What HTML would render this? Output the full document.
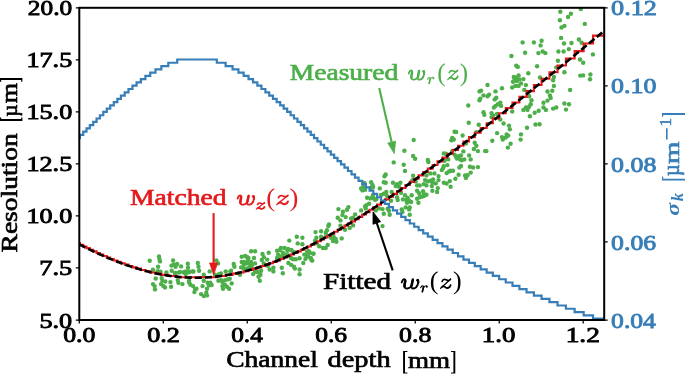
<!DOCTYPE html>
<html><head><meta charset="utf-8"><style>html,body{margin:0;padding:0;background:#fff;}svg{display:block;will-change:transform;}text{font-family:"Liberation Serif",serif;font-weight:bold;}</style></head>
<body><svg width="685" height="374" viewBox="0 0 685 374" font-family="Liberation Serif" font-weight="bold">
<rect width="685" height="374" fill="#fff"/>
<defs><clipPath id="c"><rect x="79.30" y="7.80" width="524.90" height="312.20"/></clipPath></defs><g fill="#4daf4a" clip-path="url(#c)"><circle cx="149.7" cy="260.7" r="2.2"/><circle cx="159.0" cy="256.4" r="2.2"/><circle cx="159.4" cy="259.1" r="2.2"/><circle cx="160.0" cy="261.4" r="2.2"/><circle cx="158.1" cy="266.7" r="2.2"/><circle cx="153.0" cy="269.8" r="2.2"/><circle cx="157.7" cy="271.1" r="2.2"/><circle cx="160.4" cy="271.6" r="2.2"/><circle cx="166.4" cy="272.4" r="2.2"/><circle cx="155.7" cy="278.5" r="2.2"/><circle cx="161.7" cy="278.1" r="2.2"/><circle cx="162.4" cy="281.0" r="2.2"/><circle cx="165.3" cy="281.5" r="2.2"/><circle cx="153.0" cy="284.1" r="2.2"/><circle cx="154.6" cy="286.1" r="2.2"/><circle cx="155.0" cy="289.4" r="2.2"/><circle cx="161.0" cy="284.1" r="2.2"/><circle cx="163.4" cy="286.1" r="2.2"/><circle cx="165.0" cy="287.4" r="2.2"/><circle cx="170.4" cy="282.1" r="2.2"/><circle cx="171.1" cy="286.7" r="2.2"/><circle cx="173.1" cy="260.4" r="2.2"/><circle cx="173.7" cy="264.4" r="2.2"/><circle cx="177.1" cy="264.0" r="2.2"/><circle cx="175.5" cy="266.7" r="2.2"/><circle cx="181.1" cy="266.4" r="2.2"/><circle cx="187.8" cy="263.8" r="2.2"/><circle cx="188.0" cy="267.8" r="2.2"/><circle cx="171.7" cy="270.7" r="2.2"/><circle cx="175.1" cy="273.4" r="2.2"/><circle cx="180.0" cy="272.0" r="2.2"/><circle cx="183.8" cy="272.4" r="2.2"/><circle cx="185.8" cy="271.4" r="2.2"/><circle cx="189.1" cy="271.6" r="2.2"/><circle cx="192.4" cy="271.4" r="2.2"/><circle cx="197.8" cy="263.0" r="2.2"/><circle cx="198.5" cy="266.7" r="2.2"/><circle cx="199.1" cy="270.7" r="2.2"/><circle cx="177.7" cy="280.1" r="2.2"/><circle cx="178.4" cy="282.7" r="2.2"/><circle cx="182.4" cy="284.1" r="2.2"/><circle cx="189.1" cy="280.7" r="2.2"/><circle cx="190.4" cy="284.7" r="2.2"/><circle cx="193.1" cy="286.1" r="2.2"/><circle cx="194.4" cy="292.1" r="2.2"/><circle cx="196.4" cy="288.8" r="2.2"/><circle cx="202.5" cy="286.1" r="2.2"/><circle cx="201.1" cy="294.1" r="2.2"/><circle cx="203.8" cy="296.1" r="2.2"/><circle cx="203.8" cy="274.7" r="2.2"/><circle cx="203.8" cy="280.7" r="2.2"/><circle cx="185.8" cy="274.1" r="2.2"/><circle cx="216.4" cy="260.4" r="2.2"/><circle cx="218.1" cy="263.4" r="2.2"/><circle cx="209.7" cy="271.4" r="2.2"/><circle cx="207.7" cy="282.7" r="2.2"/><circle cx="210.3" cy="282.7" r="2.2"/><circle cx="209.0" cy="285.4" r="2.2"/><circle cx="211.7" cy="285.0" r="2.2"/><circle cx="207.0" cy="288.8" r="2.2"/><circle cx="206.3" cy="292.8" r="2.2"/><circle cx="207.0" cy="295.4" r="2.2"/><circle cx="215.0" cy="274.7" r="2.2"/><circle cx="219.0" cy="274.1" r="2.2"/><circle cx="221.0" cy="273.4" r="2.2"/><circle cx="225.7" cy="271.4" r="2.2"/><circle cx="230.4" cy="271.4" r="2.2"/><circle cx="218.4" cy="280.7" r="2.2"/><circle cx="221.0" cy="280.1" r="2.2"/><circle cx="222.4" cy="282.1" r="2.2"/><circle cx="225.0" cy="280.1" r="2.2"/><circle cx="227.7" cy="279.4" r="2.2"/><circle cx="229.7" cy="278.7" r="2.2"/><circle cx="231.7" cy="283.4" r="2.2"/><circle cx="222.4" cy="286.1" r="2.2"/><circle cx="225.0" cy="284.7" r="2.2"/><circle cx="227.0" cy="286.7" r="2.2"/><circle cx="229.1" cy="288.8" r="2.2"/><circle cx="223.0" cy="288.8" r="2.2"/><circle cx="233.7" cy="264.0" r="2.2"/><circle cx="234.4" cy="266.7" r="2.2"/><circle cx="231.1" cy="270.7" r="2.2"/><circle cx="241.7" cy="256.7" r="2.2"/><circle cx="245.1" cy="256.0" r="2.2"/><circle cx="248.4" cy="258.0" r="2.2"/><circle cx="247.8" cy="260.0" r="2.2"/><circle cx="251.1" cy="251.3" r="2.2"/><circle cx="255.1" cy="251.3" r="2.2"/><circle cx="241.7" cy="262.0" r="2.2"/><circle cx="243.8" cy="264.7" r="2.2"/><circle cx="246.4" cy="263.4" r="2.2"/><circle cx="249.1" cy="262.7" r="2.2"/><circle cx="251.1" cy="262.0" r="2.2"/><circle cx="251.8" cy="265.4" r="2.2"/><circle cx="255.1" cy="263.4" r="2.2"/><circle cx="241.1" cy="267.4" r="2.2"/><circle cx="243.8" cy="268.7" r="2.2"/><circle cx="246.4" cy="268.7" r="2.2"/><circle cx="249.1" cy="267.4" r="2.2"/><circle cx="251.1" cy="268.0" r="2.2"/><circle cx="240.0" cy="274.7" r="2.2"/><circle cx="253.1" cy="274.1" r="2.2"/><circle cx="255.1" cy="272.0" r="2.2"/><circle cx="257.8" cy="272.0" r="2.2"/><circle cx="258.5" cy="276.7" r="2.2"/><circle cx="259.8" cy="280.7" r="2.2"/><circle cx="260.5" cy="274.7" r="2.2"/><circle cx="262.5" cy="254.0" r="2.2"/><circle cx="263.8" cy="257.3" r="2.2"/><circle cx="261.8" cy="260.0" r="2.2"/><circle cx="263.8" cy="263.4" r="2.2"/><circle cx="261.1" cy="270.7" r="2.2"/><circle cx="268.7" cy="252.7" r="2.2"/><circle cx="267.2" cy="259.6" r="2.2"/><circle cx="267.8" cy="265.8" r="2.2"/><circle cx="269.7" cy="269.5" r="2.2"/><circle cx="273.4" cy="267.7" r="2.2"/><circle cx="273.4" cy="271.4" r="2.2"/><circle cx="277.1" cy="250.8" r="2.2"/><circle cx="278.1" cy="254.6" r="2.2"/><circle cx="280.9" cy="248.0" r="2.2"/><circle cx="282.8" cy="252.7" r="2.2"/><circle cx="284.6" cy="248.0" r="2.2"/><circle cx="285.6" cy="254.6" r="2.2"/><circle cx="287.4" cy="250.8" r="2.2"/><circle cx="291.2" cy="249.9" r="2.2"/><circle cx="289.3" cy="240.6" r="2.2"/><circle cx="293.0" cy="251.8" r="2.2"/><circle cx="281.8" cy="267.7" r="2.2"/><circle cx="282.8" cy="273.3" r="2.2"/><circle cx="288.4" cy="263.0" r="2.2"/><circle cx="291.2" cy="264.9" r="2.2"/><circle cx="294.0" cy="266.7" r="2.2"/><circle cx="294.9" cy="268.6" r="2.2"/><circle cx="296.8" cy="236.8" r="2.2"/><circle cx="302.4" cy="237.8" r="2.2"/><circle cx="297.7" cy="243.4" r="2.2"/><circle cx="302.4" cy="244.3" r="2.2"/><circle cx="293.0" cy="259.3" r="2.2"/><circle cx="295.8" cy="259.3" r="2.2"/><circle cx="299.6" cy="258.3" r="2.2"/><circle cx="304.3" cy="254.6" r="2.2"/><circle cx="299.6" cy="269.5" r="2.2"/><circle cx="299.6" cy="274.2" r="2.2"/><circle cx="303.3" cy="263.0" r="2.2"/><circle cx="307.1" cy="251.8" r="2.2"/><circle cx="309.9" cy="252.7" r="2.2"/><circle cx="308.0" cy="256.4" r="2.2"/><circle cx="310.8" cy="258.3" r="2.2"/><circle cx="311.7" cy="260.2" r="2.2"/><circle cx="313.6" cy="253.6" r="2.2"/><circle cx="315.5" cy="232.1" r="2.2"/><circle cx="316.4" cy="237.8" r="2.2"/><circle cx="321.1" cy="231.2" r="2.2"/><circle cx="321.1" cy="236.8" r="2.2"/><circle cx="315.1" cy="240.6" r="2.2"/><circle cx="319.2" cy="246.2" r="2.2"/><circle cx="322.9" cy="248.0" r="2.2"/><circle cx="316.4" cy="243.4" r="2.2"/><circle cx="280.9" cy="256.4" r="2.2"/><circle cx="288.4" cy="255.5" r="2.2"/><circle cx="328.3" cy="226.1" r="2.2"/><circle cx="327.0" cy="230.3" r="2.2"/><circle cx="325.7" cy="233.0" r="2.2"/><circle cx="326.3" cy="235.0" r="2.2"/><circle cx="331.0" cy="237.7" r="2.2"/><circle cx="333.7" cy="237.0" r="2.2"/><circle cx="335.7" cy="239.0" r="2.2"/><circle cx="333.0" cy="241.0" r="2.2"/><circle cx="336.4" cy="241.7" r="2.2"/><circle cx="341.7" cy="238.4" r="2.2"/><circle cx="327.7" cy="245.0" r="2.2"/><circle cx="325.7" cy="248.0" r="2.2"/><circle cx="340.4" cy="225.7" r="2.2"/><circle cx="345.0" cy="229.7" r="2.2"/><circle cx="349.7" cy="227.9" r="2.2"/><circle cx="353.1" cy="225.4" r="2.2"/><circle cx="382.5" cy="226.1" r="2.2"/><circle cx="338.4" cy="209.1" r="2.2"/><circle cx="343.0" cy="211.7" r="2.2"/><circle cx="348.4" cy="207.1" r="2.2"/><circle cx="347.0" cy="209.7" r="2.2"/><circle cx="342.4" cy="215.1" r="2.2"/><circle cx="345.7" cy="217.1" r="2.2"/><circle cx="337.7" cy="217.8" r="2.2"/><circle cx="340.4" cy="220.4" r="2.2"/><circle cx="351.1" cy="218.4" r="2.2"/><circle cx="355.1" cy="214.4" r="2.2"/><circle cx="353.1" cy="217.8" r="2.2"/><circle cx="329.0" cy="224.4" r="2.2"/><circle cx="361.1" cy="210.4" r="2.2"/><circle cx="365.1" cy="206.4" r="2.2"/><circle cx="366.4" cy="205.1" r="2.2"/><circle cx="369.1" cy="203.7" r="2.2"/><circle cx="365.8" cy="208.4" r="2.2"/><circle cx="361.1" cy="188.4" r="2.2"/><circle cx="363.1" cy="187.0" r="2.2"/><circle cx="364.4" cy="183.0" r="2.2"/><circle cx="362.4" cy="190.4" r="2.2"/><circle cx="365.1" cy="189.7" r="2.2"/><circle cx="371.1" cy="182.3" r="2.2"/><circle cx="372.4" cy="185.0" r="2.2"/><circle cx="371.1" cy="187.7" r="2.2"/><circle cx="373.1" cy="187.0" r="2.2"/><circle cx="379.8" cy="188.4" r="2.2"/><circle cx="383.8" cy="182.3" r="2.2"/><circle cx="384.5" cy="176.3" r="2.2"/><circle cx="367.1" cy="197.7" r="2.2"/><circle cx="370.4" cy="198.4" r="2.2"/><circle cx="372.4" cy="197.0" r="2.2"/><circle cx="373.8" cy="198.4" r="2.2"/><circle cx="375.1" cy="199.7" r="2.2"/><circle cx="376.4" cy="199.1" r="2.2"/><circle cx="373.1" cy="195.0" r="2.2"/><circle cx="381.1" cy="195.0" r="2.2"/><circle cx="383.8" cy="193.7" r="2.2"/><circle cx="375.8" cy="210.4" r="2.2"/><circle cx="379.1" cy="208.4" r="2.2"/><circle cx="382.5" cy="209.1" r="2.2"/><circle cx="383.8" cy="213.8" r="2.2"/><circle cx="386.3" cy="192.0" r="2.2"/><circle cx="391.7" cy="192.0" r="2.2"/><circle cx="387.0" cy="196.0" r="2.2"/><circle cx="391.0" cy="200.7" r="2.2"/><circle cx="387.7" cy="208.7" r="2.2"/><circle cx="389.0" cy="210.7" r="2.2"/><circle cx="389.7" cy="214.7" r="2.2"/><circle cx="397.0" cy="197.3" r="2.2"/><circle cx="397.7" cy="200.0" r="2.2"/><circle cx="401.0" cy="192.7" r="2.2"/><circle cx="405.0" cy="195.3" r="2.2"/><circle cx="403.0" cy="199.4" r="2.2"/><circle cx="406.4" cy="200.0" r="2.2"/><circle cx="407.7" cy="198.0" r="2.2"/><circle cx="409.1" cy="200.7" r="2.2"/><circle cx="411.1" cy="202.0" r="2.2"/><circle cx="411.7" cy="195.3" r="2.2"/><circle cx="407.0" cy="202.7" r="2.2"/><circle cx="401.7" cy="209.4" r="2.2"/><circle cx="402.4" cy="212.0" r="2.2"/><circle cx="405.7" cy="207.4" r="2.2"/><circle cx="409.7" cy="207.4" r="2.2"/><circle cx="409.1" cy="209.4" r="2.2"/><circle cx="409.7" cy="214.7" r="2.2"/><circle cx="417.1" cy="190.7" r="2.2"/><circle cx="419.1" cy="193.3" r="2.2"/><circle cx="423.1" cy="191.3" r="2.2"/><circle cx="423.8" cy="194.0" r="2.2"/><circle cx="417.1" cy="198.7" r="2.2"/><circle cx="419.7" cy="197.3" r="2.2"/><circle cx="421.7" cy="196.7" r="2.2"/><circle cx="423.8" cy="196.0" r="2.2"/><circle cx="426.4" cy="194.7" r="2.2"/><circle cx="418.4" cy="202.7" r="2.2"/><circle cx="432.4" cy="190.7" r="2.2"/><circle cx="437.1" cy="192.0" r="2.2"/><circle cx="413.7" cy="140.0" r="2.2"/><circle cx="404.4" cy="150.7" r="2.2"/><circle cx="413.1" cy="156.0" r="2.2"/><circle cx="415.1" cy="158.7" r="2.2"/><circle cx="393.7" cy="162.4" r="2.2"/><circle cx="403.7" cy="164.7" r="2.2"/><circle cx="405.0" cy="171.0" r="2.2"/><circle cx="427.8" cy="160.0" r="2.2"/><circle cx="428.4" cy="162.0" r="2.2"/><circle cx="443.8" cy="153.4" r="2.2"/><circle cx="444.5" cy="160.7" r="2.2"/><circle cx="385.7" cy="174.5" r="2.2"/><circle cx="413.1" cy="175.8" r="2.2"/><circle cx="385.7" cy="182.8" r="2.2"/><circle cx="393.0" cy="182.8" r="2.2"/><circle cx="397.0" cy="184.1" r="2.2"/><circle cx="400.4" cy="182.8" r="2.2"/><circle cx="399.0" cy="186.8" r="2.2"/><circle cx="395.7" cy="186.1" r="2.2"/><circle cx="426.4" cy="175.4" r="2.2"/><circle cx="430.4" cy="173.4" r="2.2"/><circle cx="434.4" cy="173.4" r="2.2"/><circle cx="438.5" cy="176.1" r="2.2"/><circle cx="441.8" cy="170.1" r="2.2"/><circle cx="443.1" cy="168.1" r="2.2"/><circle cx="443.8" cy="166.1" r="2.2"/><circle cx="425.1" cy="180.1" r="2.2"/><circle cx="427.8" cy="181.4" r="2.2"/><circle cx="423.8" cy="184.1" r="2.2"/><circle cx="426.4" cy="185.4" r="2.2"/><circle cx="430.4" cy="180.8" r="2.2"/><circle cx="433.1" cy="179.4" r="2.2"/><circle cx="432.4" cy="182.8" r="2.2"/><circle cx="435.8" cy="183.4" r="2.2"/><circle cx="431.8" cy="186.1" r="2.2"/><circle cx="438.5" cy="180.1" r="2.2"/><circle cx="437.8" cy="188.1" r="2.2"/><circle cx="443.8" cy="182.8" r="2.2"/><circle cx="417.1" cy="185.4" r="2.2"/><circle cx="415.7" cy="181.4" r="2.2"/><circle cx="419.7" cy="185.4" r="2.2"/><circle cx="412.4" cy="180.1" r="2.2"/><circle cx="445.8" cy="153.8" r="2.2"/><circle cx="448.2" cy="159.4" r="2.2"/><circle cx="447.4" cy="165.1" r="2.2"/><circle cx="446.6" cy="173.1" r="2.2"/><circle cx="449.0" cy="171.5" r="2.2"/><circle cx="450.6" cy="170.7" r="2.2"/><circle cx="453.0" cy="170.7" r="2.2"/><circle cx="446.6" cy="183.5" r="2.2"/><circle cx="449.8" cy="181.1" r="2.2"/><circle cx="450.6" cy="186.7" r="2.2"/><circle cx="455.4" cy="178.7" r="2.2"/><circle cx="458.6" cy="174.7" r="2.2"/><circle cx="465.1" cy="175.5" r="2.2"/><circle cx="465.9" cy="177.9" r="2.2"/><circle cx="467.5" cy="175.2" r="2.2"/><circle cx="470.7" cy="172.6" r="2.2"/><circle cx="452.2" cy="151.1" r="2.2"/><circle cx="454.6" cy="154.6" r="2.2"/><circle cx="456.2" cy="157.0" r="2.2"/><circle cx="458.6" cy="156.2" r="2.2"/><circle cx="461.0" cy="155.4" r="2.2"/><circle cx="460.2" cy="159.4" r="2.2"/><circle cx="461.8" cy="160.2" r="2.2"/><circle cx="464.3" cy="159.4" r="2.2"/><circle cx="463.4" cy="151.4" r="2.2"/><circle cx="457.0" cy="158.6" r="2.2"/><circle cx="459.4" cy="167.5" r="2.2"/><circle cx="461.0" cy="165.9" r="2.2"/><circle cx="469.9" cy="166.7" r="2.2"/><circle cx="473.1" cy="167.5" r="2.2"/><circle cx="477.9" cy="167.1" r="2.2"/><circle cx="469.1" cy="155.4" r="2.2"/><circle cx="470.7" cy="159.4" r="2.2"/><circle cx="473.9" cy="149.0" r="2.2"/><circle cx="476.3" cy="145.8" r="2.2"/><circle cx="477.9" cy="151.1" r="2.2"/><circle cx="485.1" cy="151.1" r="2.2"/><circle cx="486.4" cy="151.1" r="2.2"/><circle cx="487.5" cy="85.0" r="2.2"/><circle cx="479.5" cy="91.4" r="2.2"/><circle cx="481.1" cy="90.6" r="2.2"/><circle cx="483.5" cy="95.4" r="2.2"/><circle cx="487.5" cy="96.2" r="2.2"/><circle cx="489.1" cy="94.6" r="2.2"/><circle cx="479.5" cy="100.2" r="2.2"/><circle cx="480.3" cy="98.6" r="2.2"/><circle cx="494.7" cy="99.4" r="2.2"/><circle cx="496.3" cy="97.8" r="2.2"/><circle cx="495.5" cy="91.4" r="2.2"/><circle cx="502.0" cy="88.2" r="2.2"/><circle cx="468.3" cy="105.5" r="2.2"/><circle cx="495.5" cy="105.9" r="2.2"/><circle cx="497.9" cy="104.3" r="2.2"/><circle cx="500.3" cy="102.6" r="2.2"/><circle cx="501.1" cy="105.9" r="2.2"/><circle cx="493.9" cy="107.5" r="2.2"/><circle cx="483.5" cy="112.3" r="2.2"/><circle cx="484.3" cy="114.7" r="2.2"/><circle cx="491.5" cy="113.1" r="2.2"/><circle cx="493.1" cy="115.5" r="2.2"/><circle cx="497.1" cy="113.9" r="2.2"/><circle cx="491.5" cy="117.1" r="2.2"/><circle cx="500.3" cy="119.5" r="2.2"/><circle cx="503.6" cy="123.5" r="2.2"/><circle cx="468.7" cy="122.7" r="2.2"/><circle cx="478.7" cy="124.8" r="2.2"/><circle cx="476.3" cy="132.3" r="2.2"/><circle cx="454.6" cy="131.8" r="2.2"/><circle cx="456.2" cy="132.0" r="2.2"/><circle cx="462.6" cy="135.5" r="2.2"/><circle cx="452.2" cy="137.9" r="2.2"/><circle cx="451.4" cy="140.3" r="2.2"/><circle cx="453.8" cy="139.5" r="2.2"/><circle cx="492.3" cy="140.8" r="2.2"/><circle cx="497.1" cy="133.1" r="2.2"/><circle cx="502.0" cy="137.1" r="2.2"/><circle cx="502.8" cy="139.5" r="2.2"/><circle cx="474.7" cy="142.8" r="2.2"/><circle cx="465.9" cy="143.6" r="2.2"/><circle cx="509.0" cy="125.6" r="2.2"/><circle cx="509.8" cy="129.3" r="2.2"/><circle cx="506.6" cy="134.4" r="2.2"/><circle cx="508.2" cy="135.6" r="2.2"/><circle cx="505.8" cy="137.6" r="2.2"/><circle cx="510.6" cy="143.7" r="2.2"/><circle cx="507.9" cy="147.6" r="2.2"/><circle cx="521.0" cy="134.4" r="2.2"/><circle cx="520.6" cy="139.6" r="2.2"/><circle cx="527.0" cy="127.7" r="2.2"/><circle cx="535.5" cy="124.5" r="2.2"/><circle cx="539.5" cy="124.3" r="2.2"/><circle cx="516.2" cy="65.8" r="2.2"/><circle cx="517.8" cy="66.9" r="2.2"/><circle cx="537.1" cy="66.3" r="2.2"/><circle cx="556.3" cy="67.4" r="2.2"/><circle cx="564.4" cy="72.2" r="2.2"/><circle cx="513.8" cy="77.0" r="2.2"/><circle cx="516.2" cy="77.8" r="2.2"/><circle cx="518.6" cy="75.4" r="2.2"/><circle cx="514.6" cy="80.2" r="2.2"/><circle cx="517.0" cy="81.0" r="2.2"/><circle cx="513.0" cy="81.8" r="2.2"/><circle cx="519.4" cy="79.4" r="2.2"/><circle cx="523.4" cy="79.1" r="2.2"/><circle cx="521.0" cy="83.4" r="2.2"/><circle cx="515.4" cy="85.9" r="2.2"/><circle cx="512.2" cy="87.5" r="2.2"/><circle cx="518.6" cy="85.9" r="2.2"/><circle cx="525.9" cy="85.1" r="2.2"/><circle cx="528.3" cy="73.3" r="2.2"/><circle cx="540.0" cy="77.5" r="2.2"/><circle cx="524.3" cy="89.9" r="2.2"/><circle cx="529.1" cy="96.3" r="2.2"/><circle cx="531.5" cy="100.3" r="2.2"/><circle cx="530.7" cy="104.3" r="2.2"/><circle cx="529.1" cy="106.7" r="2.2"/><circle cx="525.9" cy="107.5" r="2.2"/><circle cx="527.5" cy="109.9" r="2.2"/><circle cx="523.4" cy="109.9" r="2.2"/><circle cx="529.9" cy="116.3" r="2.2"/><circle cx="534.7" cy="112.8" r="2.2"/><circle cx="538.7" cy="110.7" r="2.2"/><circle cx="512.2" cy="111.5" r="2.2"/><circle cx="553.9" cy="77.0" r="2.2"/><circle cx="553.1" cy="80.2" r="2.2"/><circle cx="553.9" cy="85.9" r="2.2"/><circle cx="552.3" cy="90.7" r="2.2"/><circle cx="547.5" cy="91.5" r="2.2"/><circle cx="549.9" cy="95.5" r="2.2"/><circle cx="550.7" cy="97.9" r="2.2"/><circle cx="547.5" cy="100.6" r="2.2"/><circle cx="543.5" cy="102.7" r="2.2"/><circle cx="543.5" cy="107.5" r="2.2"/><circle cx="545.9" cy="109.9" r="2.2"/><circle cx="553.1" cy="108.6" r="2.2"/><circle cx="556.3" cy="107.5" r="2.2"/><circle cx="564.4" cy="103.5" r="2.2"/><circle cx="560.3" cy="11.7" r="2.2"/><circle cx="559.9" cy="20.2" r="2.2"/><circle cx="561.5" cy="27.5" r="2.2"/><circle cx="564.4" cy="25.9" r="2.2"/><circle cx="561.1" cy="37.9" r="2.2"/><circle cx="564.0" cy="43.5" r="2.2"/><circle cx="558.4" cy="51.5" r="2.2"/><circle cx="563.6" cy="51.5" r="2.2"/><circle cx="557.9" cy="60.8" r="2.2"/><circle cx="522.6" cy="42.4" r="2.2"/><circle cx="533.9" cy="42.4" r="2.2"/><circle cx="541.6" cy="40.8" r="2.2"/><circle cx="540.6" cy="45.4" r="2.2"/><circle cx="525.1" cy="52.8" r="2.2"/><circle cx="538.4" cy="53.1" r="2.2"/><circle cx="542.7" cy="51.5" r="2.2"/><circle cx="545.4" cy="53.1" r="2.2"/><circle cx="511.4" cy="56.0" r="2.2"/><circle cx="580.8" cy="9.0" r="2.2"/><circle cx="570.9" cy="13.8" r="2.2"/><circle cx="568.0" cy="17.0" r="2.2"/><circle cx="584.8" cy="23.9" r="2.2"/><circle cx="578.9" cy="39.5" r="2.2"/><circle cx="581.6" cy="42.7" r="2.2"/><circle cx="571.5" cy="43.0" r="2.2"/><circle cx="568.8" cy="49.1" r="2.2"/><circle cx="592.9" cy="54.4" r="2.2"/><circle cx="580.0" cy="59.5" r="2.2"/><circle cx="583.2" cy="62.7" r="2.2"/><circle cx="580.3" cy="75.6" r="2.2"/><circle cx="583.1" cy="75.4" r="2.2"/><circle cx="590.4" cy="74.5" r="2.2"/><circle cx="590.0" cy="79.3" r="2.2"/><circle cx="570.1" cy="90.0" r="2.2"/><circle cx="569.0" cy="104.3" r="2.2"/><circle cx="566.0" cy="109.6" r="2.2"/><circle cx="244.0" cy="262.0" r="2.2"/><circle cx="250.0" cy="264.0" r="2.2"/><circle cx="254.0" cy="258.0" r="2.2"/><circle cx="247.0" cy="257.0" r="2.2"/><circle cx="280.0" cy="250.0" r="2.2"/><circle cx="288.0" cy="249.0" r="2.2"/><circle cx="294.0" cy="252.0" r="2.2"/><circle cx="283.0" cy="256.0" r="2.2"/><circle cx="277.0" cy="258.0" r="2.2"/><circle cx="291.0" cy="258.0" r="2.2"/><circle cx="175.1" cy="272.9" r="2.2"/><circle cx="178.8" cy="272.6" r="2.2"/><circle cx="184.0" cy="272.2" r="2.2"/><circle cx="189.1" cy="272.2" r="2.2"/><circle cx="193.5" cy="271.5" r="2.2"/><circle cx="189.1" cy="282.5" r="2.2"/><circle cx="195.0" cy="289.1" r="2.2"/><circle cx="171.5" cy="265.6" r="2.2"/><circle cx="307.1" cy="255.4" r="2.2"/><circle cx="310.6" cy="258.0" r="2.2"/><circle cx="312.3" cy="260.6" r="2.2"/><circle cx="305.4" cy="258.9" r="2.2"/><circle cx="313.2" cy="253.7" r="2.2"/><circle cx="308.8" cy="251.1" r="2.2"/></g>
<path d="M79.30,243.00 L79.88,243.00 L79.88,244.74 L83.24,244.74 L83.24,246.45 L86.49,246.45 L86.49,248.12 L89.85,248.12 L89.85,249.77 L93.21,249.77 L93.21,251.38 L96.57,251.38 L96.57,252.96 L99.93,252.96 L99.93,254.52 L103.29,254.52 L103.29,256.05 L106.76,256.05 L106.76,257.55 L110.22,257.55 L110.22,259.02 L113.79,259.02 L113.79,260.47 L117.36,260.47 L117.36,261.89 L120.93,261.89 L120.93,263.29 L124.71,263.29 L124.71,264.66 L128.49,264.66 L128.49,266.01 L132.48,266.01 L132.48,267.34 L136.58,267.34 L136.58,268.65 L140.88,268.65 L140.88,269.93 L145.40,269.93 L145.40,271.19 L150.23,271.19 L150.23,272.44 L155.48,272.44 L155.48,273.66 L161.36,273.66 L161.36,274.86 L168.29,274.86 L168.29,276.05 L177.21,276.05 L177.21,277.21 L216.80,277.21 L216.80,276.05 L225.62,276.05 L225.62,274.86 L232.55,274.86 L232.55,273.66 L238.43,273.66 L238.43,272.44 L243.68,272.44 L243.68,271.19 L248.51,271.19 L248.51,269.93 L253.02,269.93 L253.02,268.65 L257.33,268.65 L257.33,267.34 L261.42,267.34 L261.42,266.01 L265.41,266.01 L265.41,264.66 L269.19,264.66 L269.19,263.29 L272.97,263.29 L272.97,261.89 L276.65,261.89 L276.65,260.47 L280.22,260.47 L280.22,259.02 L283.68,259.02 L283.68,257.55 L287.15,257.55 L287.15,256.05 L290.61,256.05 L290.61,254.52 L293.97,254.52 L293.97,252.96 L297.44,252.96 L297.44,251.38 L300.80,251.38 L300.80,249.77 L304.05,249.77 L304.05,248.12 L307.41,248.12 L307.41,246.45 L310.77,246.45 L310.77,244.74 L314.03,244.74 L314.03,243.00 L317.39,243.00 L317.39,241.22 L320.75,241.22 L320.75,239.41 L324.11,239.41 L324.11,237.57 L327.47,237.57 L327.47,235.68 L330.83,235.68 L330.83,233.76 L334.19,233.76 L334.19,231.80 L337.55,231.80 L337.55,229.80 L341.01,229.80 L341.01,227.75 L344.48,227.75 L344.48,225.66 L347.95,225.66 L347.95,223.53 L351.52,223.53 L351.52,221.35 L354.98,221.35 L354.98,219.13 L358.55,219.13 L358.55,216.85 L362.23,216.85 L362.23,214.52 L365.90,214.52 L365.90,212.14 L369.58,212.14 L369.58,209.70 L373.36,209.70 L373.36,207.21 L377.14,207.21 L377.14,204.66 L381.02,204.66 L381.02,202.05 L384.91,202.05 L384.91,199.38 L388.90,199.38 L388.90,196.64 L392.99,196.64 L392.99,193.83 L397.09,193.83 L397.09,190.95 L401.18,190.95 L401.18,188.00 L405.49,188.00 L405.49,184.98 L409.79,184.98 L409.79,181.87 L414.20,181.87 L414.20,178.69 L418.61,178.69 L418.61,175.42 L423.23,175.42 L423.23,172.06 L427.85,172.06 L427.85,168.60 L432.68,168.60 L432.68,165.06 L437.51,165.06 L437.51,161.41 L442.45,161.41 L442.45,157.66 L447.49,157.66 L447.49,153.80 L452.74,153.80 L452.74,149.83 L457.99,149.83 L457.99,145.73 L463.45,145.73 L463.45,141.52 L469.01,141.52 L469.01,137.17 L474.79,137.17 L474.79,132.69 L480.67,132.69 L480.67,128.07 L486.65,128.07 L486.65,123.29 L492.85,123.29 L492.85,118.37 L499.15,118.37 L499.15,113.27 L505.76,113.27 L505.76,108.01 L512.48,108.01 L512.48,102.56 L519.41,102.56 L519.41,96.92 L526.55,96.92 L526.55,91.08 L533.90,91.08 L533.90,85.03 L541.57,85.03 L541.57,78.75 L549.44,78.75 L549.44,72.24 L557.53,72.24 L557.53,65.47 L565.93,65.47 L565.93,58.45 L574.64,58.45 L574.64,51.14 L583.67,51.14 L583.67,43.53 L593.02,43.53 L593.02,35.60 L604.20,35.60" fill="none" stroke="#e41a1c" stroke-width="2.1"/>
<path d="M79.30,244.39 L81.06,245.30 L82.81,246.19 L84.57,247.08 L86.32,247.96 L88.08,248.83 L89.83,249.69 L91.59,250.53 L93.34,251.37 L95.10,252.20 L96.86,253.02 L98.61,253.83 L100.37,254.62 L102.12,255.41 L103.88,256.18 L105.63,256.95 L107.39,257.70 L109.14,258.44 L110.90,259.17 L112.65,259.88 L114.41,260.59 L116.17,261.28 L117.92,261.96 L119.68,262.63 L121.43,263.29 L123.19,263.93 L124.94,264.56 L126.70,265.18 L128.45,265.78 L130.21,266.38 L131.97,266.95 L133.72,267.52 L135.48,268.07 L137.23,268.60 L138.99,269.13 L140.74,269.64 L142.50,270.13 L144.25,270.61 L146.01,271.07 L147.77,271.52 L149.52,271.96 L151.28,272.38 L153.03,272.78 L154.79,273.17 L156.54,273.55 L158.30,273.91 L160.05,274.25 L161.81,274.58 L163.56,274.89 L165.32,275.19 L167.08,275.47 L168.83,275.73 L170.59,275.98 L172.34,276.21 L174.10,276.43 L175.85,276.63 L177.61,276.81 L179.36,276.97 L181.12,277.12 L182.88,277.26 L184.63,277.37 L186.39,277.47 L188.14,277.55 L189.90,277.62 L191.65,277.67 L193.41,277.70 L195.16,277.72 L196.92,277.72 L198.68,277.70 L200.43,277.66 L202.19,277.61 L203.94,277.54 L205.70,277.46 L207.45,277.35 L209.21,277.24 L210.96,277.10 L212.72,276.95 L214.47,276.78 L216.23,276.59 L217.99,276.39 L219.74,276.17 L221.50,275.94 L223.25,275.69 L225.01,275.42 L226.76,275.14 L228.52,274.84 L230.27,274.53 L232.03,274.20 L233.79,273.85 L235.54,273.49 L237.30,273.11 L239.05,272.72 L240.81,272.31 L242.56,271.89 L244.32,271.45 L246.07,271.00 L247.83,270.53 L249.59,270.05 L251.34,269.55 L253.10,269.04 L254.85,268.52 L256.61,267.98 L258.36,267.43 L260.12,266.86 L261.87,266.28 L263.63,265.69 L265.38,265.08 L267.14,264.46 L268.90,263.83 L270.65,263.18 L272.41,262.53 L274.16,261.85 L275.92,261.17 L277.67,260.48 L279.43,259.77 L281.18,259.05 L282.94,258.32 L284.70,257.58 L286.45,256.82 L288.21,256.06 L289.96,255.28 L291.72,254.49 L293.47,253.70 L295.23,252.89 L296.98,252.07 L298.74,251.24 L300.50,250.40 L302.25,249.55 L304.01,248.69 L305.76,247.82 L307.52,246.94 L309.27,246.05 L311.03,245.15 L312.78,244.24 L314.54,243.33 L316.29,242.40 L318.05,241.47 L319.81,240.53 L321.56,239.57 L323.32,238.61 L325.07,237.65 L326.83,236.67 L328.58,235.69 L330.34,234.69 L332.09,233.69 L333.85,232.69 L335.61,231.67 L337.36,230.65 L339.12,229.62 L340.87,228.58 L342.63,227.54 L344.38,226.49 L346.14,225.43 L347.89,224.37 L349.65,223.29 L351.41,222.22 L353.16,221.13 L354.92,220.04 L356.67,218.95 L358.43,217.84 L360.18,216.73 L361.94,215.62 L363.69,214.50 L365.45,213.37 L367.21,212.24 L368.96,211.10 L370.72,209.96 L372.47,208.81 L374.23,207.66 L375.98,206.50 L377.74,205.34 L379.49,204.17 L381.25,203.00 L383.00,201.82 L384.76,200.63 L386.52,199.44 L388.27,198.25 L390.03,197.05 L391.78,195.85 L393.54,194.65 L395.29,193.44 L397.05,192.22 L398.80,191.00 L400.56,189.78 L402.32,188.55 L404.07,187.32 L405.83,186.08 L407.58,184.84 L409.34,183.60 L411.09,182.35 L412.85,181.10 L414.60,179.85 L416.36,178.59 L418.12,177.33 L419.87,176.06 L421.63,174.79 L423.38,173.52 L425.14,172.25 L426.89,170.97 L428.65,169.69 L430.40,168.40 L432.16,167.11 L433.91,165.82 L435.67,164.53 L437.43,163.23 L439.18,161.93 L440.94,160.62 L442.69,159.32 L444.45,158.01 L446.20,156.70 L447.96,155.38 L449.71,154.06 L451.47,152.74 L453.23,151.42 L454.98,150.10 L456.74,148.77 L458.49,147.44 L460.25,146.10 L462.00,144.77 L463.76,143.43 L465.51,142.09 L467.27,140.75 L469.03,139.40 L470.78,138.06 L472.54,136.71 L474.29,135.35 L476.05,134.00 L477.80,132.64 L479.56,131.29 L481.31,129.93 L483.07,128.56 L484.82,127.20 L486.58,125.83 L488.34,124.46 L490.09,123.09 L491.85,121.72 L493.60,120.35 L495.36,118.97 L497.11,117.59 L498.87,116.21 L500.62,114.83 L502.38,113.45 L504.14,112.06 L505.89,110.68 L507.65,109.29 L509.40,107.90 L511.16,106.51 L512.91,105.11 L514.67,103.72 L516.42,102.32 L518.18,100.92 L519.94,99.52 L521.69,98.12 L523.45,96.72 L525.20,95.31 L526.96,93.91 L528.71,92.50 L530.47,91.09 L532.22,89.68 L533.98,88.27 L535.73,86.86 L537.49,85.44 L539.25,84.02 L541.00,82.61 L542.76,81.19 L544.51,79.77 L546.27,78.35 L548.02,76.93 L549.78,75.50 L551.53,74.08 L553.29,72.65 L555.05,71.22 L556.80,69.79 L558.56,68.36 L560.31,66.93 L562.07,65.50 L563.82,64.07 L565.58,62.63 L567.33,61.20 L569.09,59.76 L570.85,58.32 L572.60,56.89 L574.36,55.45 L576.11,54.00 L577.87,52.56 L579.62,51.12 L581.38,49.68 L583.13,48.23 L584.89,46.78 L586.64,45.34 L588.40,43.89 L590.16,42.44 L591.91,40.99 L593.67,39.54 L595.42,38.09 L597.18,36.64 L598.93,35.18 L600.69,33.73 L602.44,32.27 L604.20,30.82" fill="none" stroke="#000" stroke-width="2.6" stroke-dasharray="7.07 3.06" stroke-dashoffset="0.2"/>
<text transform="translate(289.83,79.95) scale(1.2379,1)" font-size="22.2" style="font-weight:normal" stroke="#4daf4a" stroke-width="0.65" fill="#4daf4a">Measured</text><g transform="translate(407.11,67.20) scale(0.9345,1)" fill="none" stroke="#4daf4a" color="#4daf4a" stroke-linecap="round"><path d="M1.7,6.4 C2.2,4.6 3.3,3.1 4.4,3.1 C5.6,3.1 5.6,4.6 5.2,6.0 C4.7,7.6 4.3,9.2 4.5,10.6 C4.8,12.2 6.2,12.6 7.4,12.5 C9.0,12.3 10.4,11.4 11.2,10.2" stroke-width="1.8"/><path d="M5.3,5.2 C4.8,7.0 4.4,8.6 4.5,10.4" stroke-width="2.6"/><path d="M12.9,3.4 L11.4,10.0 C11.0,11.8 12.0,12.6 13.4,12.5 C15.2,12.4 16.8,10.9 17.7,8.6 C18.4,6.9 18.5,5.0 17.9,4.0" stroke-width="1.8"/><path d="M12.8,3.8 L11.6,9.6" stroke-width="2.6"/><path d="M18.2,6.8 C18.4,5.6 18.3,4.6 17.9,4.0" stroke-width="2.2"/><circle cx="17.5" cy="4.3" r="1.3" stroke="none" fill="currentColor"/></g><g transform="translate(423.53,72.35) scale(0.9367,0.9259)" fill="none" stroke="#4daf4a" color="#4daf4a" stroke-linecap="round"><path d="M4.3,7.4 C4.8,6.1 5.6,5.5 6.4,5.5 C7.1,5.5 7.4,6.0 7.2,6.8 L6.0,11.9" stroke-width="1.2"/><path d="M7.1,7.2 L6.0,11.9" stroke-width="1.7"/><path d="M7.0,7.8 C7.8,6.2 9.0,5.3 10.2,5.4 C10.8,5.5 11.0,6.0 10.9,6.5" stroke-width="1.1"/><circle cx="10.6" cy="6.5" r="0.95" stroke="none" fill="currentColor"/></g><text transform="translate(437.18,81.07) scale(1.1435,1.1211)" font-size="22.2" style="font-weight:normal" fill="#4daf4a">(</text><g transform="translate(447.03,70.04) scale(0.9328,0.9623)" fill="none" stroke="#4daf4a" stroke-linecap="round"><path d="M2.4,2.7 C2.9,1.2 4.3,0.5 5.6,0.7 C7.0,0.9 7.8,1.7 8.9,1.7 C9.9,1.7 10.8,1.0 11.3,0.4" stroke-width="1.75"/><path d="M11.3,0.4 L0.8,9.8" stroke-width="1.30"/><path d="M2.8,8.1 C4.0,7.4 5.3,8.0 6.7,9.2 C7.5,9.7 8.3,9.5 8.8,9.3 C10.0,8.9 11.0,8.0 11.4,6.6" stroke-width="2.00"/></g><text transform="translate(459.85,81.07) scale(1.1261,1.1211)" font-size="22.2" style="font-weight:normal" fill="#4daf4a">)</text><text transform="translate(130.02,204.95) scale(1.2416,1)" font-size="22.2" style="font-weight:normal" stroke="#e41a1c" stroke-width="0.65" fill="#e41a1c">Matched</text><g transform="translate(235.92,192.20) scale(0.9881,1)" fill="none" stroke="#e41a1c" color="#e41a1c" stroke-linecap="round"><path d="M1.7,6.4 C2.2,4.6 3.3,3.1 4.4,3.1 C5.6,3.1 5.6,4.6 5.2,6.0 C4.7,7.6 4.3,9.2 4.5,10.6 C4.8,12.2 6.2,12.6 7.4,12.5 C9.0,12.3 10.4,11.4 11.2,10.2" stroke-width="1.8"/><path d="M5.3,5.2 C4.8,7.0 4.4,8.6 4.5,10.4" stroke-width="2.6"/><path d="M12.9,3.4 L11.4,10.0 C11.0,11.8 12.0,12.6 13.4,12.5 C15.2,12.4 16.8,10.9 17.7,8.6 C18.4,6.9 18.5,5.0 17.9,4.0" stroke-width="1.8"/><path d="M12.8,3.8 L11.6,9.6" stroke-width="2.6"/><path d="M18.2,6.8 C18.4,5.6 18.3,4.6 17.9,4.0" stroke-width="2.2"/><circle cx="17.5" cy="4.3" r="1.3" stroke="none" fill="currentColor"/></g><g transform="translate(255.79,202.63) scale(0.7563,0.6604)" fill="none" stroke="#e41a1c" stroke-linecap="round"><path d="M2.4,2.7 C2.9,1.2 4.3,0.5 5.6,0.7 C7.0,0.9 7.8,1.7 8.9,1.7 C9.9,1.7 10.8,1.0 11.3,0.4" stroke-width="2.36"/><path d="M11.3,0.4 L0.8,9.8" stroke-width="1.76"/><path d="M2.8,8.1 C4.0,7.4 5.3,8.0 6.7,9.2 C7.5,9.7 8.3,9.5 8.8,9.3 C10.0,8.9 11.0,8.0 11.4,6.6" stroke-width="2.70"/></g><text transform="translate(266.34,206.06) scale(1.1954,1.1461)" font-size="22.2" style="font-weight:normal" fill="#e41a1c">(</text><g transform="translate(275.96,195.04) scale(1.0504,0.9623)" fill="none" stroke="#e41a1c" stroke-linecap="round"><path d="M2.4,2.7 C2.9,1.2 4.3,0.5 5.6,0.7 C7.0,0.9 7.8,1.7 8.9,1.7 C9.9,1.7 10.8,1.0 11.3,0.4" stroke-width="1.75"/><path d="M11.3,0.4 L0.8,9.8" stroke-width="1.30"/><path d="M2.8,8.1 C4.0,7.4 5.3,8.0 6.7,9.2 C7.5,9.7 8.3,9.5 8.8,9.3 C10.0,8.9 11.0,8.0 11.4,6.6" stroke-width="2.00"/></g><text transform="translate(289.50,206.06) scale(1.1954,1.1461)" font-size="22.2" style="font-weight:normal" fill="#e41a1c">)</text><text transform="translate(323.01,288.75) scale(1.3145,1)" font-size="22.2" style="font-weight:normal" stroke="#000" stroke-width="0.65" fill="#000">Fitted</text><g transform="translate(400.00,276.00) scale(1.0000,1)" fill="none" stroke="#000" color="#000" stroke-linecap="round"><path d="M1.7,6.4 C2.2,4.6 3.3,3.1 4.4,3.1 C5.6,3.1 5.6,4.6 5.2,6.0 C4.7,7.6 4.3,9.2 4.5,10.6 C4.8,12.2 6.2,12.6 7.4,12.5 C9.0,12.3 10.4,11.4 11.2,10.2" stroke-width="1.8"/><path d="M5.3,5.2 C4.8,7.0 4.4,8.6 4.5,10.4" stroke-width="2.6"/><path d="M12.9,3.4 L11.4,10.0 C11.0,11.8 12.0,12.6 13.4,12.5 C15.2,12.4 16.8,10.9 17.7,8.6 C18.4,6.9 18.5,5.0 17.9,4.0" stroke-width="1.8"/><path d="M12.8,3.8 L11.6,9.6" stroke-width="2.6"/><path d="M18.2,6.8 C18.4,5.6 18.3,4.6 17.9,4.0" stroke-width="2.2"/><circle cx="17.5" cy="4.3" r="1.3" stroke="none" fill="currentColor"/></g><g transform="translate(416.49,280.75) scale(0.9747,0.9259)" fill="none" stroke="#000" color="#000" stroke-linecap="round"><path d="M4.3,7.4 C4.8,6.1 5.6,5.5 6.4,5.5 C7.1,5.5 7.4,6.0 7.2,6.8 L6.0,11.9" stroke-width="1.2"/><path d="M7.1,7.2 L6.0,11.9" stroke-width="1.7"/><path d="M7.0,7.8 C7.8,6.2 9.0,5.3 10.2,5.4 C10.8,5.5 11.0,6.0 10.9,6.5" stroke-width="1.1"/><circle cx="10.6" cy="6.5" r="0.95" stroke="none" fill="currentColor"/></g><text transform="translate(429.85,289.47) scale(1.1781,1.1211)" font-size="22.2" style="font-weight:normal" fill="#000">(</text><g transform="translate(439.84,278.84) scale(0.9412,0.9623)" fill="none" stroke="#000" stroke-linecap="round"><path d="M2.4,2.7 C2.9,1.2 4.3,0.5 5.6,0.7 C7.0,0.9 7.8,1.7 8.9,1.7 C9.9,1.7 10.8,1.0 11.3,0.4" stroke-width="1.75"/><path d="M11.3,0.4 L0.8,9.8" stroke-width="1.30"/><path d="M2.8,8.1 C4.0,7.4 5.3,8.0 6.7,9.2 C7.5,9.7 8.3,9.5 8.8,9.3 C10.0,8.9 11.0,8.0 11.4,6.6" stroke-width="2.00"/></g><text transform="translate(453.12,289.47) scale(1.1781,1.1211)" font-size="22.2" style="font-weight:normal" fill="#000">)</text><path d="M379.20,88.10L391.65,142.10" stroke="#4daf4a" stroke-width="2.1" fill="none"/><path d="M394.30,153.60L387.75,143.00L395.55,141.20Z" fill="#4daf4a" stroke="#4daf4a" stroke-width="0.8"/><path d="M213.60,213.10L213.60,263.00" stroke="#e41a1c" stroke-width="2.1" fill="none"/><path d="M213.60,274.80L209.60,263.00L217.60,263.00Z" fill="#e41a1c" stroke="#e41a1c" stroke-width="0.8"/><path d="M392.70,270.30L376.77,222.98" stroke="#000" stroke-width="2.1" fill="none"/><path d="M373.00,211.80L380.56,221.71L372.98,224.26Z" fill="#000" stroke="#000" stroke-width="0.8"/>
<path d="M79.30,138.20 L79.88,138.20 L79.88,134.92 L83.24,134.92 L83.24,131.64 L86.49,131.64 L86.49,128.36 L89.85,128.36 L89.85,125.08 L93.21,125.08 L93.21,121.80 L96.57,121.80 L96.57,118.52 L99.93,118.52 L99.93,115.24 L103.29,115.24 L103.29,111.96 L106.76,111.96 L106.76,108.68 L110.22,108.68 L110.22,105.40 L113.79,105.40 L113.79,102.12 L117.36,102.12 L117.36,98.84 L120.93,98.84 L120.93,95.56 L124.71,95.56 L124.71,92.28 L128.49,92.28 L128.49,89.00 L132.48,89.00 L132.48,85.72 L136.58,85.72 L136.58,82.44 L140.88,82.44 L140.88,79.16 L145.40,79.16 L145.40,75.88 L150.23,75.88 L150.23,72.60 L155.48,72.60 L155.48,69.32 L161.36,69.32 L161.36,66.04 L168.29,66.04 L168.29,62.76 L177.21,62.76 L177.21,59.48 L216.80,59.48 L216.80,62.76 L225.62,62.76 L225.62,66.04 L232.55,66.04 L232.55,69.32 L238.43,69.32 L238.43,72.60 L243.68,72.60 L243.68,75.88 L248.51,75.88 L248.51,79.16 L253.02,79.16 L253.02,82.44 L257.33,82.44 L257.33,85.72 L261.42,85.72 L261.42,89.00 L265.41,89.00 L265.41,92.28 L269.19,92.28 L269.19,95.56 L272.97,95.56 L272.97,98.84 L276.65,98.84 L276.65,102.12 L280.22,102.12 L280.22,105.40 L283.68,105.40 L283.68,108.68 L287.15,108.68 L287.15,111.96 L290.61,111.96 L290.61,115.24 L293.97,115.24 L293.97,118.52 L297.44,118.52 L297.44,121.80 L300.80,121.80 L300.80,125.08 L304.05,125.08 L304.05,128.36 L307.41,128.36 L307.41,131.64 L310.77,131.64 L310.77,134.92 L314.03,134.92 L314.03,138.20 L317.39,138.20 L317.39,141.48 L320.75,141.48 L320.75,144.76 L324.11,144.76 L324.11,148.04 L327.47,148.04 L327.47,151.32 L330.83,151.32 L330.83,154.60 L334.19,154.60 L334.19,157.88 L337.55,157.88 L337.55,161.16 L341.01,161.16 L341.01,164.44 L344.48,164.44 L344.48,167.72 L347.95,167.72 L347.95,171.00 L351.52,171.00 L351.52,174.28 L354.98,174.28 L354.98,177.56 L358.55,177.56 L358.55,180.84 L362.23,180.84 L362.23,184.12 L365.90,184.12 L365.90,187.40 L369.58,187.40 L369.58,190.68 L373.36,190.68 L373.36,193.96 L377.14,193.96 L377.14,197.24 L381.02,197.24 L381.02,200.52 L384.91,200.52 L384.91,203.80 L388.90,203.80 L388.90,207.08 L392.99,207.08 L392.99,210.36 L397.09,210.36 L397.09,213.64 L401.18,213.64 L401.18,216.92 L405.49,216.92 L405.49,220.20 L409.79,220.20 L409.79,223.48 L414.20,223.48 L414.20,226.76 L418.61,226.76 L418.61,230.04 L423.23,230.04 L423.23,233.32 L427.85,233.32 L427.85,236.60 L432.68,236.60 L432.68,239.88 L437.51,239.88 L437.51,243.16 L442.45,243.16 L442.45,246.44 L447.49,246.44 L447.49,249.72 L452.74,249.72 L452.74,253.00 L457.99,253.00 L457.99,256.28 L463.45,256.28 L463.45,259.56 L469.01,259.56 L469.01,262.84 L474.79,262.84 L474.79,266.12 L480.67,266.12 L480.67,269.40 L486.65,269.40 L486.65,272.68 L492.85,272.68 L492.85,275.96 L499.15,275.96 L499.15,279.24 L505.76,279.24 L505.76,282.52 L512.48,282.52 L512.48,285.80 L519.41,285.80 L519.41,289.08 L526.55,289.08 L526.55,292.36 L533.90,292.36 L533.90,295.64 L541.57,295.64 L541.57,298.92 L549.44,298.92 L549.44,302.20 L557.53,302.20 L557.53,305.48 L565.93,305.48 L565.93,308.76 L574.64,308.76 L574.64,312.04 L583.67,312.04 L583.67,315.32 L593.02,315.32 L593.02,318.60 L604.20,318.60" fill="none" stroke="#377eb8" stroke-width="2.2"/>
<rect x="79.30" y="7.80" width="524.90" height="312.20" fill="none" stroke="#000" stroke-width="2.0"/><path d="M75.80,320.00H79.30 M75.80,267.97H79.30 M75.80,215.93H79.30 M75.80,163.90H79.30 M75.80,111.87H79.30 M75.80,59.83H79.30 M75.80,7.80H79.30 M604.20,320.00H607.70 M604.20,241.95H607.70 M604.20,163.90H607.70 M604.20,85.85H607.70 M604.20,7.80H607.70 M79.30,320.00V323.50 M163.28,320.00V323.50 M247.27,320.00V323.50 M331.25,320.00V323.50 M415.24,320.00V323.50 M499.22,320.00V323.50 M583.20,320.00V323.50" stroke="#000" stroke-width="1.25" fill="none"/>
<text transform="translate(39.45,327.50) scale(1.2367,1)" font-size="21.2" style="font-weight:normal" stroke="#000" stroke-width="0.85" fill="#000">5.0</text><text transform="translate(39.18,275.47) scale(1.2472,1)" font-size="21.2" style="font-weight:normal" stroke="#000" stroke-width="0.85" fill="#000">7.5</text><text transform="translate(26.47,223.43) scale(1.2332,1)" font-size="21.2" style="font-weight:normal" stroke="#000" stroke-width="0.85" fill="#000">10.0</text><text transform="translate(26.47,171.40) scale(1.2332,1)" font-size="21.2" style="font-weight:normal" stroke="#000" stroke-width="0.85" fill="#000">12.5</text><text transform="translate(26.47,119.37) scale(1.2332,1)" font-size="21.2" style="font-weight:normal" stroke="#000" stroke-width="0.85" fill="#000">15.0</text><text transform="translate(26.47,67.33) scale(1.2332,1)" font-size="21.2" style="font-weight:normal" stroke="#000" stroke-width="0.85" fill="#000">17.5</text><text transform="translate(27.79,15.30) scale(1.1972,1)" font-size="21.2" style="font-weight:normal" stroke="#000" stroke-width="0.85" fill="#000">20.0</text><text transform="translate(63.18,342.40) scale(1.2163,1)" font-size="21.2" style="font-weight:normal" stroke="#000" stroke-width="0.85" fill="#000">0.0</text><text transform="translate(147.16,342.40) scale(1.2367,1)" font-size="21.2" style="font-weight:normal" stroke="#000" stroke-width="0.85" fill="#000">0.2</text><text transform="translate(231.16,342.40) scale(1.1965,1)" font-size="21.2" style="font-weight:normal" stroke="#000" stroke-width="0.85" fill="#000">0.4</text><text transform="translate(315.14,342.40) scale(1.2063,1)" font-size="21.2" style="font-weight:normal" stroke="#000" stroke-width="0.85" fill="#000">0.6</text><text transform="translate(399.12,342.40) scale(1.2163,1)" font-size="21.2" style="font-weight:normal" stroke="#000" stroke-width="0.85" fill="#000">0.8</text><text transform="translate(481.74,342.40) scale(1.2687,1)" font-size="21.2" style="font-weight:normal" stroke="#000" stroke-width="0.85" fill="#000">1.0</text><text transform="translate(565.69,342.40) scale(1.2910,1)" font-size="21.2" style="font-weight:normal" stroke="#000" stroke-width="0.85" fill="#000">1.2</text><text transform="translate(611.09,327.60) scale(1.2079,1)" font-size="21.2" style="font-weight:normal" stroke="#377eb8" stroke-width="0.85" fill="#377eb8">0.04</text><text transform="translate(611.08,249.55) scale(1.2149,1)" font-size="21.2" style="font-weight:normal" stroke="#377eb8" stroke-width="0.85" fill="#377eb8">0.06</text><text transform="translate(611.08,171.50) scale(1.2220,1)" font-size="21.2" style="font-weight:normal" stroke="#377eb8" stroke-width="0.85" fill="#377eb8">0.08</text><text transform="translate(611.08,93.45) scale(1.2220,1)" font-size="21.2" style="font-weight:normal" stroke="#377eb8" stroke-width="0.85" fill="#377eb8">0.10</text><text transform="translate(611.08,15.40) scale(1.2365,1)" font-size="21.2" style="font-weight:normal" stroke="#377eb8" stroke-width="0.85" fill="#377eb8">0.12</text><text transform="translate(226.27,367.20) scale(1.2394,1)" font-size="22.2" style="font-weight:normal" stroke="#000" stroke-width="0.65" fill="#000">Channel</text><text transform="translate(327.53,367.20) scale(1.2797,1)" font-size="22.2" style="font-weight:normal" stroke="#000" stroke-width="0.65" fill="#000">depth</text><text transform="translate(408.03,367.50) scale(1.2197,1)" font-size="22.2" style="font-weight:normal" stroke="#000" stroke-width="0.65" fill="#000">mm</text><text transform="translate(17.10,252.48) rotate(-90) scale(1.2398,1)" font-size="22.2" style="font-weight:normal" stroke="#000" stroke-width="0.65" fill="#000">Resolution</text><text transform="translate(16.92,116.63) rotate(-90) scale(0.9676,0.9792)" font-size="22.2" style="font-weight:normal" stroke="#000" stroke-width="0.65" fill="#000">µ</text><text transform="translate(17.00,103.16) rotate(-90) scale(1.1759,1)" font-size="22.2" style="font-weight:normal" stroke="#000" stroke-width="0.65" fill="#000">m</text><text transform="translate(679.20,215.71) rotate(-90) scale(1.0709,0.8839)" font-size="22.2" font-style="italic" fill="#377eb8">σ</text><text transform="translate(683.00,201.17) rotate(-90) scale(0.7601,0.7181)" font-size="22.2" font-style="italic" fill="#377eb8">k</text><text transform="translate(678.62,175.91) rotate(-90) scale(0.9176,0.9988)" font-size="22.2" style="font-weight:normal" stroke="#377eb8" stroke-width="0.65" fill="#377eb8">µ</text><text transform="translate(679.00,164.09) rotate(-90) scale(1.3046,0.9193)" font-size="22.2" style="font-weight:normal" stroke="#377eb8" stroke-width="0.65" fill="#377eb8">m</text><text transform="translate(670.84,126.58) rotate(-90) scale(0.7587,0.7154)" font-size="22.2" style="font-weight:normal" stroke="#377eb8" stroke-width="0.65" fill="#377eb8">1</text><path d="M403.10,350.90h1.90v22.70h-1.90ZM403.10,350.90h4.30v1.20h-4.30ZM403.10,372.40h4.30v1.20h-4.30ZM453.40,350.90h1.90v22.70h-1.90ZM451.00,350.90h4.30v1.20h-4.30ZM451.00,372.40h4.30v1.20h-4.30ZM0.00,119.10h22.40v1.90h-22.40ZM0.00,117.40h1.20v3.60h-1.20ZM21.20,117.40h1.20v3.60h-1.20ZM0.00,78.00h22.40v1.90h-22.40ZM0.00,78.00h1.20v3.80h-1.20ZM21.20,78.00h1.20v3.80h-1.20Z" fill="#000"/><path d="M666.00,128.20h1.60v11.30h-1.60ZM662.00,178.70h24.50v1.90h-24.50ZM662.00,176.60h1.20v4.00h-1.20ZM685.30,176.60h1.20v4.00h-1.20ZM662.00,113.10h24.50v1.90h-24.50ZM662.00,113.10h1.20v3.60h-1.20ZM685.30,113.10h1.20v3.60h-1.20Z" fill="#377eb8"/>
</svg></body></html>
